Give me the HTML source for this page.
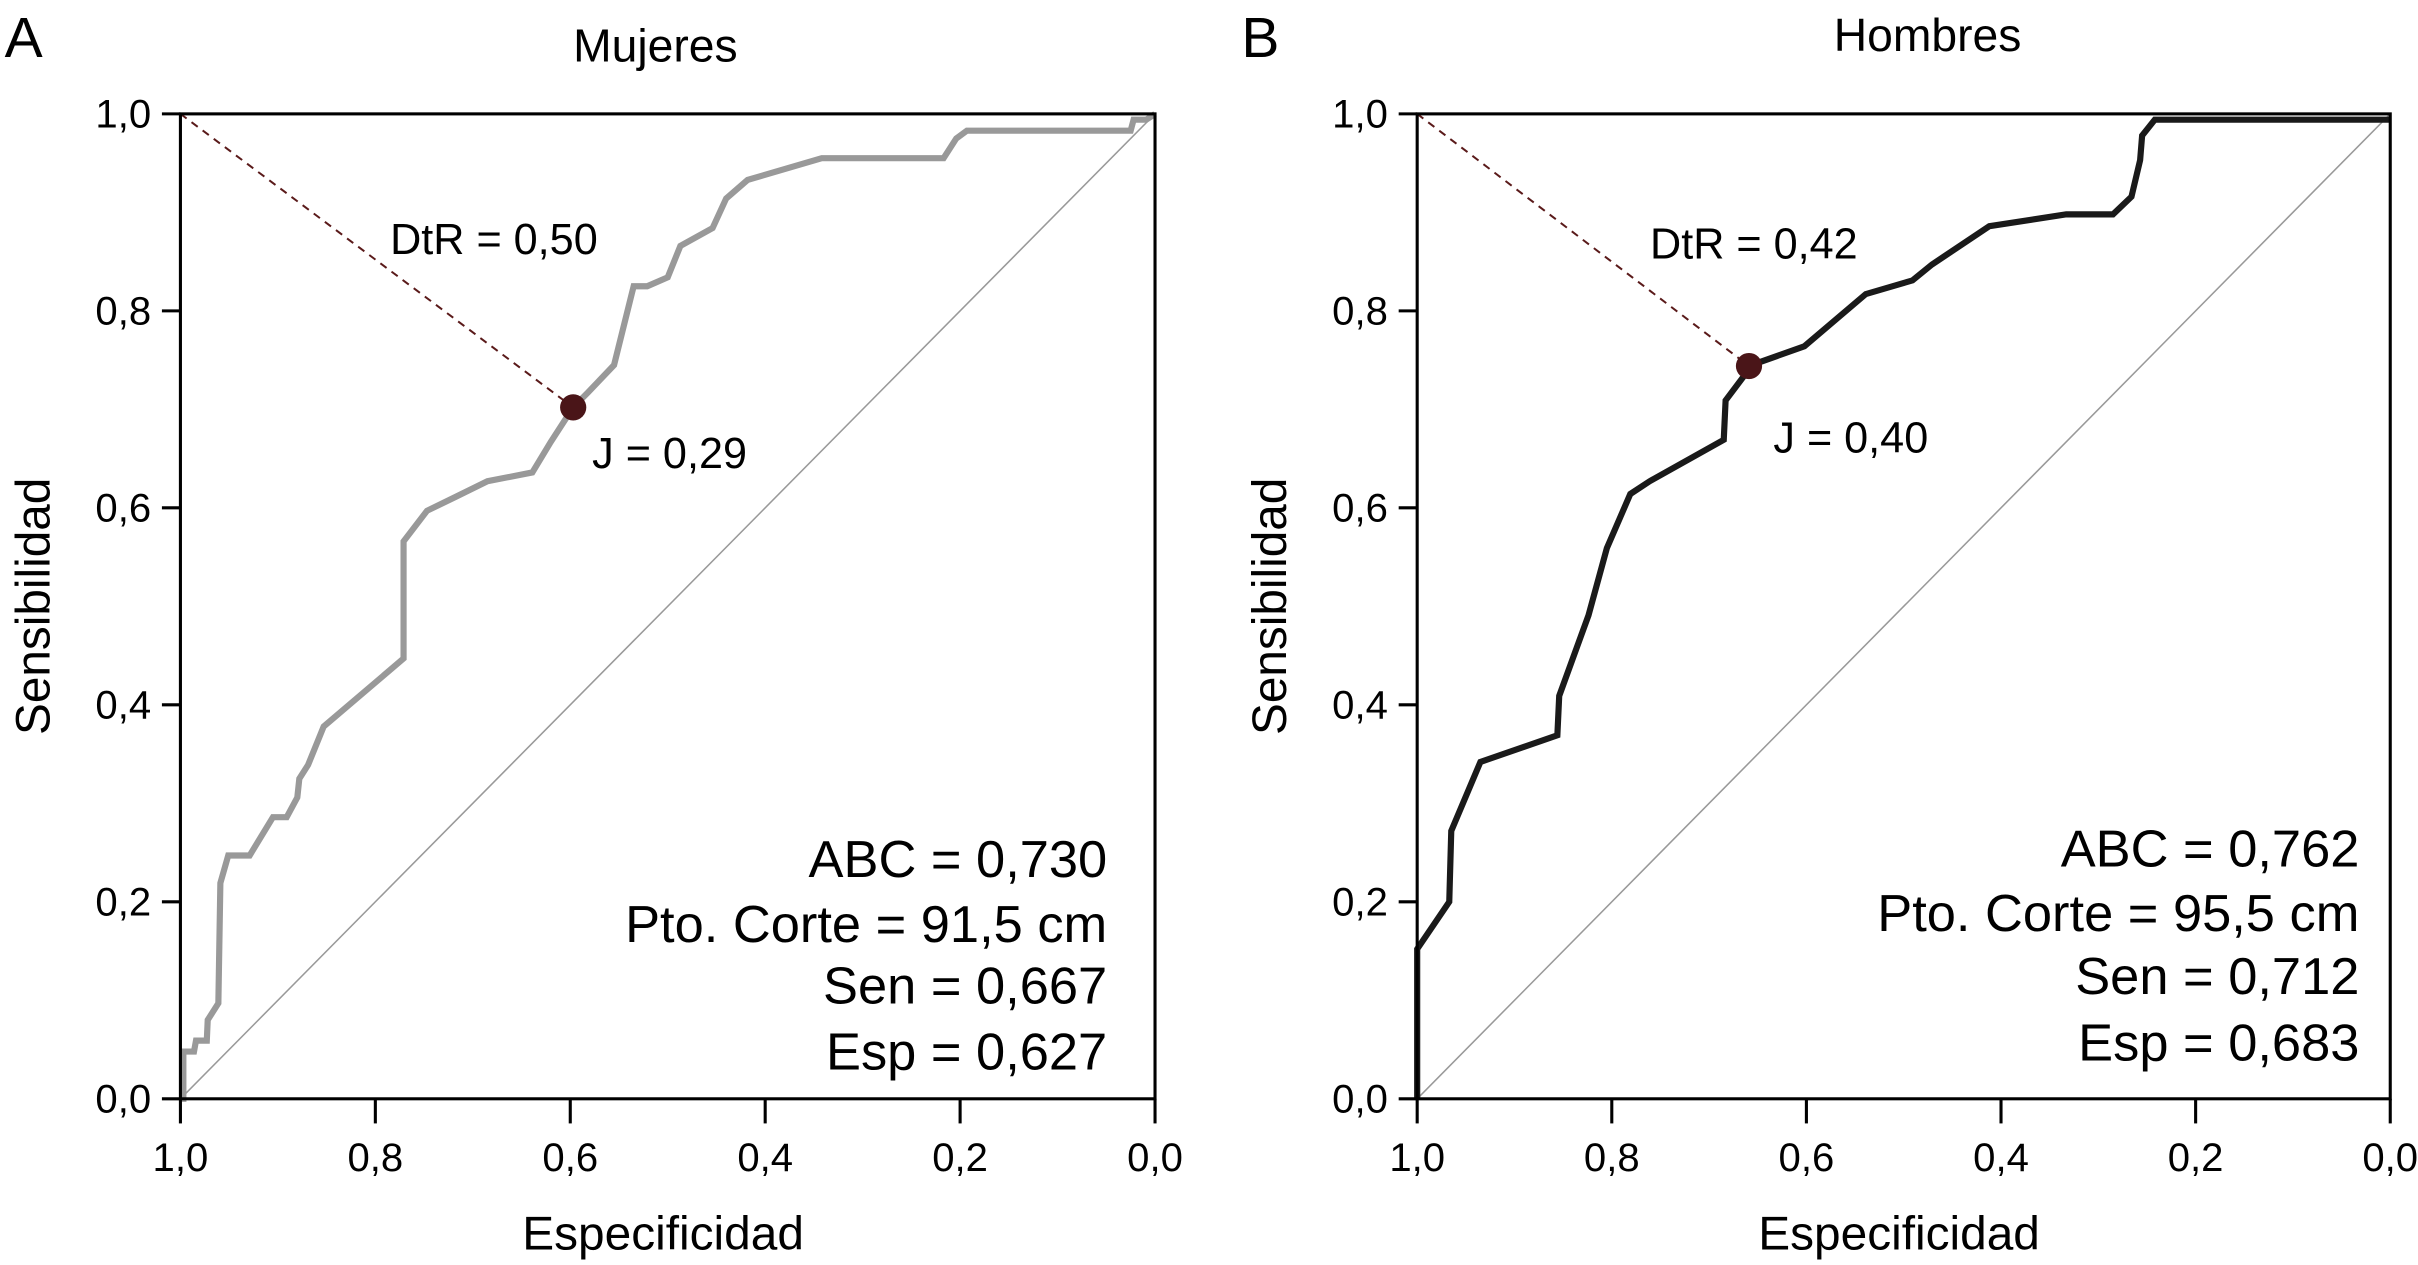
<!DOCTYPE html>
<html><head><meta charset="utf-8"><style>html,body{margin:0;padding:0;background:#fff}svg{display:block}text{font-family:"Liberation Sans",sans-serif;fill:#000}</style></head>
<body>
<svg id="fig" width="2418" height="1265" viewBox="0 0 1568 822" preserveAspectRatio="none" xmlns="http://www.w3.org/2000/svg"></svg>
<script>
const specA=[1.0,0.997,0.997,0.986,0.984,0.973,0.972,0.961,0.959,0.951,0.929,0.905,0.891,0.880,0.878,0.869,0.853,0.771,0.771,0.747,0.718,0.685,0.639,0.620,0.597,0.582,0.555,0.535,0.521,0.500,0.487,0.454,0.440,0.418,0.342,0.217,0.204,0.193,0.025,0.022,0.009,0];
const sensA=[0,0,0.048,0.048,0.059,0.059,0.080,0.097,0.219,0.247,0.247,0.286,0.286,0.306,0.325,0.339,0.378,0.447,0.566,0.597,0.611,0.627,0.636,0.667,0.702,0.717,0.745,0.825,0.825,0.834,0.866,0.884,0.914,0.933,0.955,0.955,0.975,0.983,0.983,0.994,0.994,1];
const specB=[1,1,0.967,0.965,0.935,0.856,0.854,0.824,0.805,0.781,0.761,0.685,0.683,0.661,0.659,0.602,0.539,0.491,0.471,0.412,0.333,0.285,0.266,0.257,0.255,0.242,0];
const sensB=[0,0.152,0.200,0.272,0.342,0.369,0.409,0.491,0.559,0.614,0.627,0.669,0.709,0.738,0.744,0.764,0.817,0.831,0.847,0.886,0.898,0.898,0.916,0.953,0.978,0.994,0.994];
const ticks=[1.0,0.8,0.6,0.4,0.2,0.0];
const tickLabels=["1,0","0,8","0,6","0,4","0,2","0,0"];
const optA={spec:0.597,sens:0.702};
const optB={spec:0.659,sens:0.744};
const statsA=["ABC = 0,730","Pto. Corte = 91,5 cm","Sen = 0,667","Esp = 0,627"];
const statsB=["ABC = 0,762","Pto. Corte = 95,5 cm","Sen = 0,712","Esp = 0,683"];

const NS="http://www.w3.org/2000/svg";
const svg=document.getElementById('fig');
function mk(tag,attrs,parent,txt){const e=document.createElementNS(NS,tag);for(const k in attrs)e.setAttribute(k,attrs[k]);if(txt!==undefined)e.textContent=txt;(parent||svg).appendChild(e);return e;}

function panel(cfg){
  const g=mk('g',{});
  
  
  const x0=cfg.x0,x1=cfg.x1,y0=714,y1=74;
  const sx=s=>x1-(x1-x0)*s;
  const sy=v=>y0-(y0-y1)*v;
  const lt=mk('text',{x:cfg.lx,y:37,'font-size':37},g,cfg.letter);
  
  
  const tt=mk('text',{x:cfg.tx,y:cfg.ty,'font-size':30,'text-anchor':'middle'},g,cfg.title);
  
  
  const d=mk('line',{x1:sx(1),y1:sy(0),x2:sx(0),y2:sy(1),stroke:'#999','stroke-width':1},g);
  
  
  const dl=mk('line',{x1:sx(1),y1:sy(1),x2:sx(cfg.opt.spec),y2:sy(cfg.opt.sens),stroke:'#5a1a1a','stroke-width':1.3,'stroke-dasharray':'5,4'},g);
  
  
  let p='';for(let i=0;i<cfg.spec.length;i++)p+=(i?'L':'M')+sx(cfg.spec[i]).toFixed(1)+','+sy(cfg.sens[i]).toFixed(1);
  const c=mk('path',{d:p,fill:'none',stroke:cfg.color,'stroke-width':4,'stroke-linejoin':'miter'},g);
  
  
  const b=mk('rect',{x:x0,y:y1,width:x1-x0,height:y0-y1,fill:'none',stroke:'#000','stroke-width':2},g);
  
  
  ticks.forEach((t,i)=>{
    const yt=mk('line',{x1:x0-12,x2:x0,y1:sy(t),y2:sy(t),stroke:'#000','stroke-width':2},g);
    
    
    const yl=mk('text',{x:x0-19,y:sy(t)+9,'font-size':26,'text-anchor':'end'},g,tickLabels[i]);
    
    
    const xt=mk('line',{x1:sx(t),x2:sx(t),y1:y0,y2:y0+16,stroke:'#000','stroke-width':2},g);
    
    
    const xl=mk('text',{x:sx(t),y:761,'font-size':26,'text-anchor':'middle'},g,tickLabels[i]);
    
    
  });
  const xa=mk('text',{x:(x0+x1)/2-3,y:812,'font-size':31,'text-anchor':'middle'},g,'Especificidad');
  
  
  const ya=mk('text',{x:0,y:0,'font-size':31,'text-anchor':'middle',transform:`translate(${x0-85},394) rotate(-90)`},g,'Sensibilidad');
  
  
  const dot=mk('circle',{cx:sx(cfg.opt.spec),cy:sy(cfg.opt.sens),r:8.5,fill:'#4a1518'},g);
  
  
  const dt=mk('text',{x:cfg.dtr[0],y:cfg.dtr[1],'font-size':28},g,cfg.dtrText);
  
  
  const jt=mk('text',{x:cfg.j[0],y:cfg.j[1],'font-size':28},g,cfg.jText);
  
  
  cfg.stats.forEach((s,i)=>{
    const st=mk('text',{x:cfg.sr,y:cfg.sb[i],'font-size':34,'text-anchor':'end'},g,s);
    
    
  });
}
panel({name:'panel-a-mujeres',letter:'A',lx:3,title:'Mujeres',tx:425,ty:40,x0:117,x1:749,spec:specA,sens:sensA,color:'#999',opt:optA,dtr:[253,165],dtrText:'DtR = 0,50',j:[384,304],jText:'J = 0,29',stats:statsA,sr:718,sb:[570,612,652,695]});
panel({name:'panel-b-hombres',letter:'B',lx:805,title:'Hombres',tx:1250,ty:33,x0:919,x1:1550,spec:specB,sens:sensB,color:'#1a1a1a',opt:optB,dtr:[1070,168],dtrText:'DtR = 0,42',j:[1150,294],jText:'J = 0,40',stats:statsB,sr:1530,sb:[563,605,646,689]});
</script>
</body></html>
